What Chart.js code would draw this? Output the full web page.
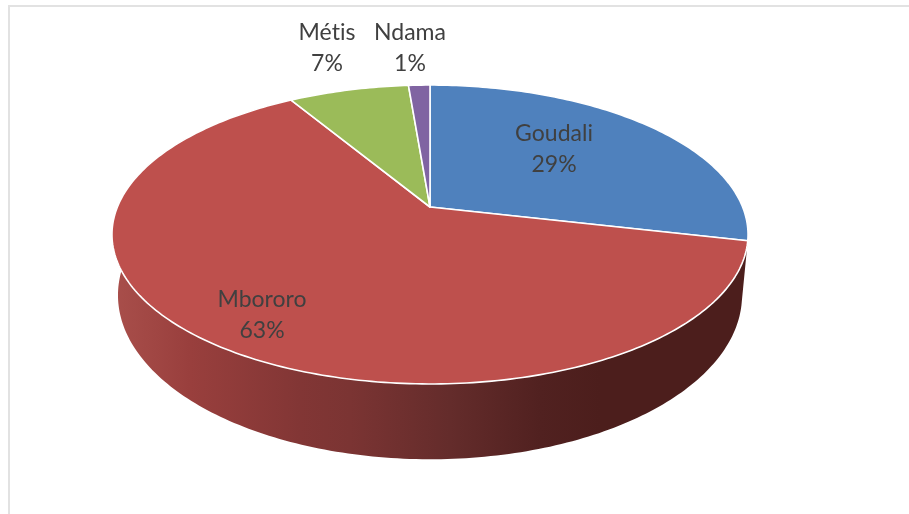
<!DOCTYPE html>
<html>
<head>
<meta charset="utf-8">
<script src="https://cdn.jsdelivr.net/npm/chart.js@4"></script>
<style>
  html, body { margin: 0; padding: 0; background: #fff; overflow: hidden; }
  #frame { position: absolute; left: 8px; top: 5px; width: 920px; height: 530px;
    border-left: 2px solid #e2e2e2; border-top: 2px solid #e2e2e2; }
  #pie { position: absolute; left: 0; top: 0; filter: blur(0.45px); }
</style>
</head>
<body>
<div id="frame"></div>
<canvas id="pie" width="909" height="514"></canvas>
<script>
'use strict';

const categories = ['Goudali', 'Mbororo', 'Métis', 'Ndama'];
const shares = [28.6, 62.8, 7.3, 1.3];
const sliceColors = ['#4f81bd', '#be504d', '#9bbb59', '#8064a2'];

//label centres, same order as categories
const labelX = [554, 262, 327, 410];
const labelY = [134, 300, 33, 33];
const lineGap = 31;

//perspective of the tilted disc: apex moves down for the bottom rim
const tilt = 0.184;
const topFace = { halfWidth: 312.6, halfDepth: 144.4, shift: 0 };
const bottomFace = { halfWidth: 306.7, halfDepth: 158.5, shift: 58 };

const wallStops = [
  [112, '#a94f4b'], [190, '#993f3d'], [300, '#823635'], [350, '#7b3433'],
  [450, '#642c2b'], [540, '#512120'], [600, '#4c1e1c']
];

//maps a point on the pie (angle + radius from chart.js) to the flattened picture
function project(arc, angle, radius, face) {
  let u = Math.cos(angle) * radius / arc.outerRadius;
  let v = Math.sin(angle) * radius / arc.outerRadius;
  let w = 1 - tilt * v;
  return {
    x: arc.x + face.halfWidth * u / w,
    y: arc.y + face.shift + face.halfDepth * v / w
  };
}

function traceRim(ctx, arc, from, to, face, first) {
  let steps = Math.max(2, Math.ceil(Math.abs(to - from) * 60));
  for (let i = 0; i <= steps; i++) {
    let p = project(arc, from + (to - from) * i / steps, arc.outerRadius, face);
    if (i === 0 && first) {
      ctx.moveTo(p.x, p.y);
    } else {
      ctx.lineTo(p.x, p.y);
    }
  }
}

const flatPie = {
  id: 'flatPie',
  beforeDatasetsDraw(chart) {
    const ctx = chart.ctx;
    const arcs = chart.getDatasetMeta(0).data;

    //side wall, only the big slice faces the viewer
    const wall = ctx.createLinearGradient(112, 0, 748, 0);
    wallStops.forEach(function (stop) {
      wall.addColorStop((stop[0] - 112) / 636, stop[1]);
    });
    const front = arcs[1];
    ctx.beginPath();
    traceRim(ctx, front, front.startAngle, front.endAngle, topFace, true);
    traceRim(ctx, front, front.endAngle, front.startAngle, bottomFace, false);
    ctx.closePath();
    ctx.fillStyle = wall;
    ctx.fill();

    //top faces
    arcs.forEach(function (arc, i) {
      let centre = project(arc, 0, 0, topFace);
      ctx.beginPath();
      ctx.moveTo(centre.x, centre.y);
      traceRim(ctx, arc, arc.startAngle, arc.endAngle, topFace, false);
      ctx.closePath();
      ctx.fillStyle = sliceColors[i];
      ctx.fill();
      ctx.strokeStyle = '#ffffff';
      ctx.lineWidth = 1.6;
      ctx.lineJoin = 'round';
      ctx.stroke();
    });

    //labels, the tiny spacing stops Lato joining the "ti" in Métis
    const total = shares.reduce(function (a, b) { return a + b; }, 0);
    ctx.fillStyle = '#404040';
    ctx.font = '23px Lato';
    ctx.letterSpacing = '0.01px';
    ctx.textAlign = 'center';
    ctx.textBaseline = 'middle';
    categories.forEach(function (name, i) {
      ctx.fillText(name, labelX[i], labelY[i]);
      ctx.fillText(Math.round(shares[i] / total * 100) + '%', labelX[i], labelY[i] + lineGap);
    });
    return false;
  }
};

new Chart(document.getElementById('pie'), {
  type: 'pie',
  data: {
    labels: categories,
    datasets: [{ data: shares, backgroundColor: sliceColors, borderWidth: 0 }]
  },
  options: {
    responsive: false,
    animation: false,
    layout: { padding: { right: 49, bottom: 100 } },
    plugins: { legend: { display: false }, tooltip: { enabled: false } }
  },
  plugins: [flatPie]
});
</script>
</body>
</html>
